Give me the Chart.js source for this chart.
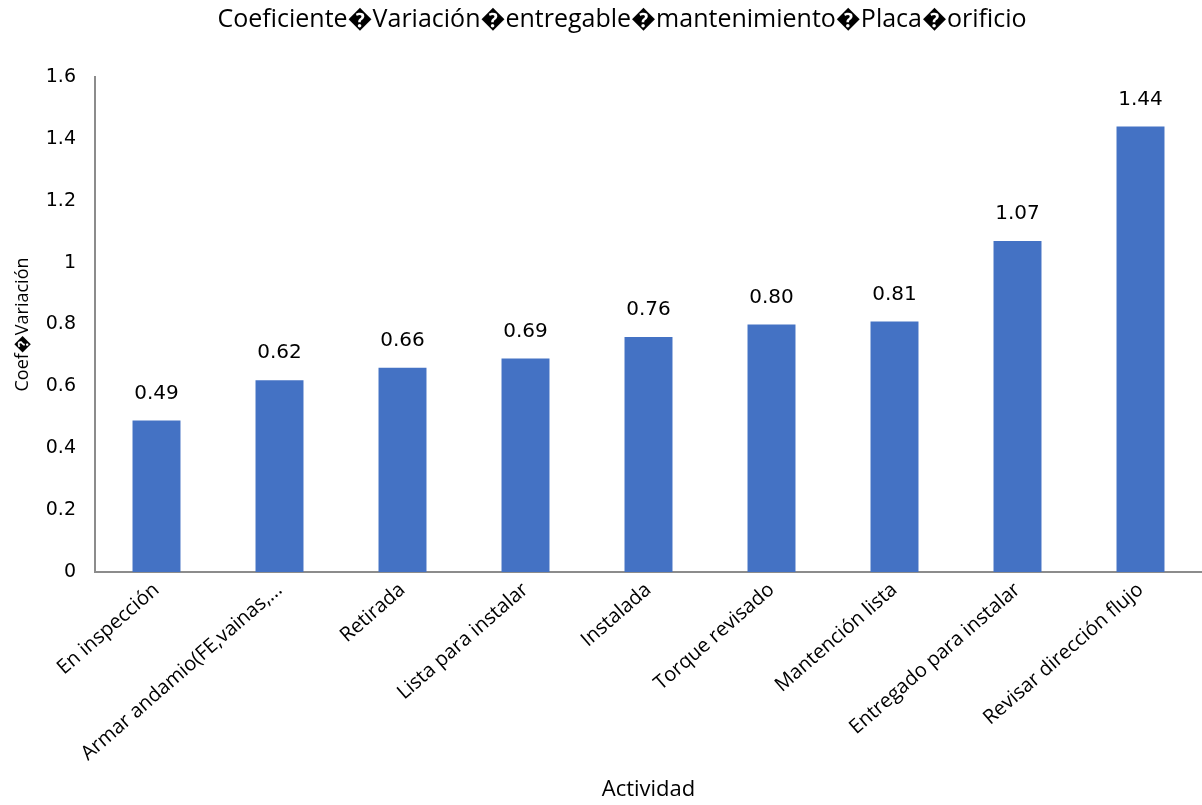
<!DOCTYPE html>
<html>
<head>
<meta charset="utf-8">
<script src="https://cdn.jsdelivr.net/npm/chart.js@4/dist/chart.umd.min.js"></script>
<style>
  html, body { margin: 0; padding: 0; background: #fff; }
  #wrap { width: 1202px; height: 805px; }
</style>
</head>
<body>
<div id="wrap"><canvas id="myChart"></canvas></div>
<script>
// actividades y coeficientes
const actividades = [
  'En inspección', 'Armar andamio(FE,vainas,...', 'Retirada', 'Lista para instalar',
  'Instalada', 'Torque revisado', 'Mantención lista', 'Entregado para instalar',
  'Revisar dirección flujo'
]
const coeficientes = [0.49, 0.62, 0.66, 0.69, 0.76, 0.80, 0.81, 1.07, 1.44]
const ticksY = [0, 0.2, 0.4, 0.6, 0.8, 1, 1.2, 1.4, 1.6]
const titulo = 'Coeficiente\uFFFDVariación\uFFFDentregable\uFFFDmantenimiento\uFFFDPlaca\uFFFDorificio'

// titulo un poco corrido a la derecha, como en el informe
const tituloGrafico = {
  id: 'tituloGrafico',
  afterDraw(chart) {
    const ctx = chart.ctx
    ctx.save()
    ctx.font = '25px "Open Sans"'
    ctx.fillStyle = '#000'
    ctx.textAlign = 'center'
    ctx.textBaseline = 'middle'
    ctx.fillText(titulo, 622, 20)
    ctx.restore()
  }
}

// etiquetas de valor encima de cada barra
const valorBarras = {
  id: 'valorBarras',
  afterDatasetsDraw(chart) {
    const ctx = chart.ctx
    const meta = chart.getDatasetMeta(0)
    ctx.save()
    ctx.font = '20px "DejaVu Sans"'
    ctx.fillStyle = '#000'
    ctx.textAlign = 'center'
    ctx.textBaseline = 'middle'
    meta.data.forEach((bar, i) => {
      ctx.fillText(coeficientes[i].toFixed(2), bar.x, bar.y - 27)
    })
    ctx.restore()
  }
}

new Chart(document.getElementById('myChart'), {
  type: 'bar',
  data: {
    labels: actividades,
    datasets: [{
      data: coeficientes,
      backgroundColor: '#4472C4',
      barPercentage: 0.39,
      categoryPercentage: 1
    }]
  },
  options: {
    responsive: true,
    maintainAspectRatio: false,
    animation: false,
    layout: { padding: { left: 12, right: 0, top: 77, bottom: 2 } },
    plugins: {
      legend: { display: false },
      tooltip: { enabled: false },
      title: { display: false }
    },
    scales: {
      x: {
        grid: { display: false, drawTicks: false },
        border: { color: '#8c8c8c', width: 2 },
        ticks: {
          color: '#000',
          font: { family: 'Open Sans', size: 20 },
          maxRotation: 41,
          minRotation: 41,
          padding: 6,
          autoSkip: false
        },
        title: {
          display: true,
          text: 'Actividad',
          color: '#000',
          font: { family: 'Open Sans', size: 22 },
          padding: { top: 0, bottom: 0 }
        },
        afterFit: s => { s.height = 231 }
      },
      y: {
        min: 0,
        max: 1.6,
        afterBuildTicks: s => { s.ticks = ticksY.map(v => ({ value: v })) },
        grid: { display: false, drawOnChartArea: false, tickLength: 7, color: '#8c8c8c', tickWidth: 2 },
        border: { color: '#8c8c8c', width: 2 },
        ticks: {
          color: '#000',
          font: { family: 'DejaVu Sans', size: 19 },
          padding: 12,
          callback: v => String(v)
        },
        title: {
          display: true,
          text: 'Coef\uFFFDVariación',
          color: '#000',
          font: { family: 'Open Sans', size: 18 },
          padding: { top: 0, bottom: 0 }
        },
        afterFit: s => { s.width = 83 }
      }
    }
  },
  plugins: [valorBarras, tituloGrafico]
})
</script>
</body>
</html>
